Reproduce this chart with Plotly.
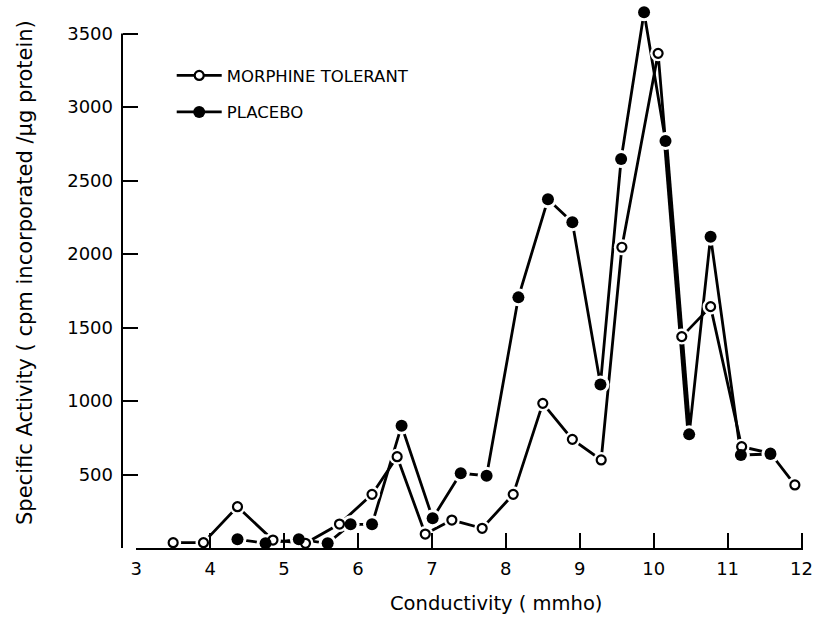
import plotly.graph_objects as go

# ---- data ----
morphine_x = [3.50, 3.91, 4.37, 4.85, 5.29, 5.75, 6.19, 6.53, 6.91, 7.27, 7.68, 8.10,
              8.50, 8.90, 9.29, 9.57, 10.06, 10.38, 10.77, 11.19, 11.58, 11.91]
morphine_y = [36, 36, 281, 54, 32, 163, 365, 621, 95, 190, 134, 365,
              984, 739, 599, 2046, 3365, 1438, 1642, 689, 645, 429]

placebo_x = [4.37, 4.75, 5.20, 5.59, 5.90, 6.19, 6.59, 7.01, 7.39, 7.74, 8.17,
             8.57, 8.90, 9.28, 9.56, 9.87, 10.16, 10.48, 10.77, 11.18, 11.58]
placebo_y = [59, 32, 59, 32, 161, 161, 832, 202, 508, 492, 1705,
             2372, 2216, 1113, 2646, 3644, 2769, 773, 2118, 633, 639]

x_ticks = [3, 4, 5, 6, 7, 8, 9, 10, 11, 12]
y_ticks = [500, 1000, 1500, 2000, 2500, 3000, 3500]

series_names = ["MORPHINE TOLERANT", "PLACEBO"]
x_title = "Conductivity ( mmho)"
y_title = "Specific Activity ( cpm incorporated /\u03bcg protein)"

FONT = "DejaVu Sans, sans-serif"
BLACK = "black"

fig = go.Figure()

open_marker = dict(symbol="circle", size=9, color="white", line=dict(color=BLACK, width=2.2))
filled_marker = dict(symbol="circle", size=12, color=BLACK, line=dict(width=0))

# lines (also carry the legend entries)
fig.add_trace(go.Scatter(x=morphine_x, y=morphine_y, mode="lines+markers",
                         name=series_names[0], legendgroup="m",
                         line=dict(color=BLACK, width=2.8), marker=open_marker))
fig.add_trace(go.Scatter(x=placebo_x, y=placebo_y, mode="lines+markers",
                         name=series_names[1], legendgroup="p",
                         line=dict(color=BLACK, width=2.8), marker=filled_marker))
# heavier stroke on the steep placebo descent
fig.add_trace(go.Scatter(x=placebo_x[16:18], y=placebo_y[16:18], mode="lines",
                         showlegend=False, hoverinfo="skip",
                         line=dict(color=BLACK, width=5)))

# white halos that create the small gaps between lines and symbols
fig.add_trace(go.Scatter(x=morphine_x, y=morphine_y, mode="markers", showlegend=False,
                         hoverinfo="skip", cliponaxis=False,
                         marker=dict(size=16, color="white", line=dict(width=0))))
fig.add_trace(go.Scatter(x=placebo_x, y=placebo_y, mode="markers", showlegend=False,
                         hoverinfo="skip", cliponaxis=False,
                         marker=dict(size=18, color="white", line=dict(width=0))))

# symbols on top
fig.add_trace(go.Scatter(x=morphine_x, y=morphine_y, mode="markers", showlegend=False,
                         legendgroup="m", cliponaxis=False, marker=open_marker,
                         name=series_names[0]))
fig.add_trace(go.Scatter(x=placebo_x, y=placebo_y, mode="markers", showlegend=False,
                         legendgroup="p", cliponaxis=False, marker=filled_marker,
                         name=series_names[1]))

L, R, T, B = 122, 11, 5, 74
W, H = 814, 622
plot_w = W - L - R
px_per_unit = 0.147
y_top = (H - B - T) / px_per_unit
x_d0 = 14.2 / plot_w

fig.update_layout(
    width=W, height=H,
    margin=dict(l=L, r=R, t=T, b=B),
    plot_bgcolor="white", paper_bgcolor="white",
    font=dict(family=FONT, color=BLACK),
    showlegend=True,
    legend=dict(x=0.073, y=0.902, xanchor="left", yanchor="top",
                traceorder="grouped", tracegroupgap=12, itemwidth=45,
                font=dict(size=16.5, family=FONT, color=BLACK),
                bgcolor="rgba(0,0,0,0)", borderwidth=0),
    xaxis=dict(domain=[x_d0, 1], range=[3, 12.02], tickvals=x_ticks,
               ticks="inside", ticklen=15, tickwidth=2, tickcolor=BLACK,
               showline=True, linecolor=BLACK, linewidth=2,
               showgrid=False, zeroline=False, automargin=False,
               ticklabeloverflow="allow",
               tickfont=dict(size=18, family=FONT, color=BLACK),
               ticklabelstandoff=3),
    yaxis=dict(range=[0, y_top], tickvals=y_ticks, anchor="free", position=0,
               ticks="inside", ticklen=15, tickwidth=2, tickcolor=BLACK,
               showline=False, showgrid=False, zeroline=False, automargin=False,
               tickfont=dict(size=18, family=FONT, color=BLACK),
               ticklabelstandoff=9),
    shapes=[dict(type="line", xref="paper", yref="y", x0=0, x1=0,
                 y0=0, y1=y_ticks[-1], line=dict(color=BLACK, width=2))],
    annotations=[
        dict(text=x_title, xref="paper", yref="paper",
             x=(496 - L) / plot_w, y=-(603 - (H - B)) / (H - B - T),
             xanchor="center", yanchor="middle", showarrow=False,
             font=dict(size=19.5, family=FONT, color=BLACK)),
        dict(text=y_title, xref="paper", yref="paper", textangle=-90,
             x=(25 - L) / plot_w, y=((H - B) - 273) / (H - B - T),
             xanchor="center", yanchor="middle", showarrow=False,
             font=dict(size=21, family=FONT, color=BLACK)),
    ],
)

fig.write_html("out.html")
